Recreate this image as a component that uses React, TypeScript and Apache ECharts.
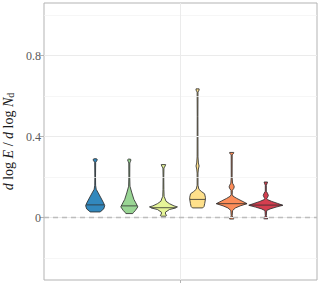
import React, { useEffect, useRef } from "react";
import * as echarts from "echarts";

// ---- data ----
const groupNames = ["G1", "G2", "G3", "G4", "G5", "G6"];
const groupColors = ["#3288BD", "#99D594", "#E6F598", "#FEE08B", "#FC8D59", "#D53E4F"];
const medians = [0.063, 0.058, 0.049, 0.09, 0.069, 0.062];

// density profiles: [value, relative density] from top to bottom
const blueProfile = [
  [0.291, 0.06], [0.288, 0.12], [0.281, 0.1], [0.274, 0.03], [0.25, 0.025], [0.2, 0.02],
  [0.16, 0.025], [0.14, 0.06], [0.122, 0.18], [0.097, 0.34], [0.073, 0.49], [0.059, 0.56],
  [0.043, 0.5], [0.032, 0.34], [0.028, 0.3],
];
const greenProfile = [
  [0.289, 0.05], [0.286, 0.1], [0.278, 0.07], [0.27, 0.03], [0.2, 0.025], [0.155, 0.04],
  [0.122, 0.15], [0.09, 0.27], [0.073, 0.38], [0.053, 0.5], [0.035, 0.35], [0.025, 0.24],
  [0.02, 0.2],
];
const paleProfile = [
  [0.262, 0.13], [0.255, 0.1], [0.245, 0.03], [0.2, 0.02], [0.14, 0.025], [0.105, 0.04],
  [0.097, 0.08], [0.081, 0.15], [0.069, 0.35], [0.058, 0.62], [0.053, 0.82], [0.047, 0.68],
  [0.04, 0.35], [0.027, 0.12], [0.018, 0.12], [0.012, 0.18], [0.007, 0.15],
];
const yellowProfile = [
  [0.636, 0.09], [0.63, 0.09], [0.62, 0.025], [0.5, 0.02], [0.3, 0.025], [0.27, 0.05],
  [0.255, 0.09], [0.24, 0.05], [0.22, 0.025], [0.16, 0.025], [0.14, 0.08], [0.128, 0.24],
  [0.118, 0.41], [0.1, 0.46], [0.09, 0.46], [0.07, 0.42], [0.055, 0.38], [0.048, 0.3],
];
const orangeProfile = [
  [0.322, 0.12], [0.316, 0.1], [0.31, 0.03], [0.2, 0.025], [0.17, 0.05], [0.16, 0.12],
  [0.152, 0.15], [0.144, 0.12], [0.135, 0.04], [0.115, 0.03], [0.106, 0.08], [0.095, 0.3],
  [0.082, 0.6], [0.069, 0.9], [0.058, 0.5], [0.048, 0.22], [0.035, 0.05], [0.01, 0.03],
  [0.0, 0.06], [-0.004, 0.12], [-0.007, 0.12],
];
const redProfile = [
  [0.176, 0.1], [0.17, 0.08], [0.16, 0.03], [0.13, 0.03], [0.12, 0.1], [0.11, 0.15],
  [0.1, 0.1], [0.093, 0.05], [0.089, 0.1], [0.08, 0.35], [0.07, 0.7], [0.061, 1.0],
  [0.052, 0.6], [0.043, 0.25], [0.035, 0.05], [0.01, 0.03], [-0.002, 0.08], [-0.006, 0.12],
];
const profiles = [blueProfile, greenProfile, paleProfile, yellowProfile, orangeProfile, redProfile];

const yTickValues = [0, 0.4, 0.8];
const yMinorValues = [-0.2, 0.2, 0.6, 1.0];

// ---- layout constants ----
const DODGE = 0.15;
const MAX_HALF = 0.075;
const FONT = "'Liberation Serif', 'Times New Roman', serif";

function densityAt(profile: number[][], v: number): number {
  for (let i = 0; i < profile.length - 1; i++) {
    const [v0, d0] = profile[i];
    const [v1, d1] = profile[i + 1];
    if ((v <= v0 && v >= v1)) {
      const t = v0 === v1 ? 0 : (v0 - v) / (v0 - v1);
      return d0 + (d1 - d0) * t;
    }
  }
  return 0;
}

export default function App() {
  const ref = useRef<HTMLDivElement>(null);
  useEffect(() => {
    if (!ref.current) return;
    const chart = echarts.init(ref.current, undefined, { renderer: "svg" });
    const centers = groupNames.map((_, i) => 1 + (i - (groupNames.length - 1) / 2) * DODGE);

    const option: any = {
      animation: false,
      grid: {
        left: 44, top: 3, right: 3, bottom: 8,
        outerBoundsMode: "none",
        containLabel: false,
        show: true, borderColor: "#b3b3b3", borderWidth: 1, backgroundColor: "transparent",
      },
      xAxis: [
        {
          type: "value", min: 0.4, max: 1.6,
          axisLine: { show: false }, axisTick: { show: false },
          axisLabel: { show: false }, splitLine: { show: false },
        },
        {
          type: "category", data: [""], position: "bottom",
          axisLine: { show: false },
          axisTick: { show: true, alignWithLabel: true, length: 3, lineStyle: { color: "#b3b3b3" } },
          axisLabel: { show: false }, splitLine: { show: false },
        },
      ],
      yAxis: {
        type: "value", min: -0.308, max: 1.06,
        axisLine: { show: false },
        axisTick: { show: true, customValues: yTickValues, length: 4, lineStyle: { color: "#b3b3b3" } },
        axisLabel: {
          customValues: yTickValues, color: "#5a5a5a", fontFamily: FONT, fontSize: 12, margin: 3,
          formatter: (v: number) => (v === 0 ? "0" : String(v)),
        },
        splitLine: { show: false },
        name: "{i|d} log {i|E} / {i|d} log {i|N}{s|d}",
        nameLocation: "middle",
        nameRotate: 90,
        nameGap: 21,
        nameTextStyle: {
          fontFamily: FONT, fontSize: 14, color: "#1a1a1a",
          rich: {
            i: { fontFamily: FONT, fontSize: 14, fontStyle: "italic", color: "#1a1a1a" },
            s: { fontFamily: FONT, fontSize: 10, color: "#1a1a1a", verticalAlign: "bottom" },
          },
        },
      },
      series: [
        {
          type: "line", data: [], xAxisIndex: 0, yAxisIndex: 0, z: 1,
          markLine: {
            silent: true, symbol: ["none", "none"], label: { show: false },
            lineStyle: { color: "#ebebeb", width: 1, type: "solid" },
            data: [
              ...yMinorValues.map((v) => ({ yAxis: v, lineStyle: { color: "#f2f2f2", width: 0.7, type: "solid" } })),
              ...yTickValues.map((v) => ({ yAxis: v })),
              { xAxis: 1 },
            ],
          },
        },
        {
          type: "line", data: [], xAxisIndex: 0, yAxisIndex: 0, z: 2,
          markLine: {
            silent: true, symbol: ["none", "none"], label: { show: false },
            lineStyle: { color: "#bdbdbd", width: 1.4, type: [5, 4] },
            data: [{ yAxis: 0 }],
          },
        },
        {
          type: "custom", xAxisIndex: 0, yAxisIndex: 0, z: 3,
          data: centers.map((c, i) => [c, medians[i]]),
          encode: { x: 0, y: 1 },
          renderItem: (params: any, api: any) => {
            const i = params.dataIndex;
            const c = centers[i];
            const prof = profiles[i];
            const right = prof.map(([v, d]) => api.coord([c + d * MAX_HALF, v]));
            const left = prof.slice().reverse().map(([v, d]) => api.coord([c - d * MAX_HALF, v]));
            const dm = densityAt(prof, medians[i]);
            const p0 = api.coord([c - dm * MAX_HALF, medians[i]]);
            const p1 = api.coord([c + dm * MAX_HALF, medians[i]]);
            return {
              type: "group",
              children: [
                {
                  type: "polygon",
                  shape: { points: [...right, ...left] },
                  style: { fill: groupColors[i], stroke: "#2e2e2e", lineWidth: 0.85 },
                },
                {
                  type: "line",
                  shape: { x1: p0[0], y1: p0[1], x2: p1[0], y2: p1[1] },
                  style: { stroke: "#2e2e2e", lineWidth: 0.8 },
                },
              ],
            };
          },
        },
      ],
    };
    chart.setOption(option);
    return () => chart.dispose();
  }, []);
  return (
    <div
      ref={ref}
      style={{ position: "fixed", left: 0, top: 0, width: 320, height: 288, background: "#ffffff" }}
    />
  );
}
